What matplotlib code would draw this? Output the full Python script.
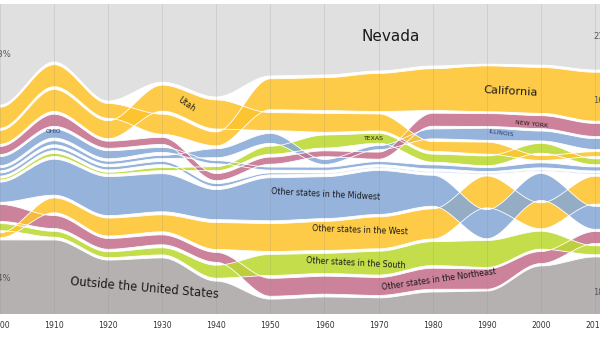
import numpy as np
import matplotlib
matplotlib.use("Agg")
import matplotlib.pyplot as plt

plt.rcParams['font.family'] = ['DejaVu Sans']

years = np.arange(1900, 2011, 10)

# Share of Nevada residents by birthplace (percent)
nevada     = [32.6, 18.7, 31.3, 25.2, 30.0, 23.2, 22.9, 21.6, 20.0, 19.4, 19.7, 21.3]
california = [6.8, 7.1, 4.8, 6.5, 4.5, 10.0, 10.6, 12.3, 13.5, 14.8, 14.8, 15.8]
utah       = [4.5, 7.1, 5.8, 8.4, 9.4, 5.8, 6.1, 5.5, 3.2, 3.9, 1.6, 1.6]
new_york   = [2.6, 3.9, 2.3, 2.3, 2.3, 2.3, 1.9, 2.3, 4.2, 4.2, 4.2, 4.2]
illinois   = [1.0, 1.3, 1.0, 1.0, 2.9, 3.2, 1.6, 1.3, 3.2, 3.9, 3.2, 3.5]
ohio       = [2.9, 2.9, 2.6, 1.6, 1.0, 1.0, 1.0, 1.0, 1.3, 1.3, 1.6, 1.3]
iowa       = [1.0, 1.0, 1.0, 1.0, 1.0, 0.6, 0.3, 0.3, 0.3, 0.3, 0.3, 0.3]
texas      = [0.6, 1.0, 0.6, 1.0, 1.3, 2.6, 4.2, 3.2, 2.6, 3.2, 3.2, 1.9]
midwest    = [6.5, 11.6, 12.6, 12.3, 9.7, 13.9, 13.5, 14.2, 10.0, 9.4, 8.7, 7.4]
west       = [1.6, 4.8, 5.8, 5.5, 8.7, 9.0, 9.4, 10.3, 9.7, 10.3, 8.4, 9.0]
south      = [2.3, 1.9, 1.9, 2.3, 4.2, 6.8, 6.5, 7.7, 7.7, 8.7, 5.8, 2.9]
northeast  = [5.5, 4.2, 3.5, 3.2, 3.2, 5.8, 5.8, 5.8, 6.8, 6.5, 3.9, 3.9]
outside    = [23.9, 23.9, 17.4, 18.1, 10.6, 4.8, 5.5, 5.2, 7.1, 7.4, 15.5, 18.4]

share = {"NV": nevada, "CA": california, "UT": utah, "NY": new_york, "IL": illinois,
         "OH": ohio, "IA": iowa, "TX": texas, "MW": midwest, "WE": west,
         "SO": south, "NE": northeast, "US": outside}

# Top-to-bottom stacking order in each decade
order = [
    ["NV", "CA", "UT", "NY", "OH", "IL", "IA", "TX", "MW", "NE", "SO", "WE", "US"],  # 1900
    ["NV", "CA", "UT", "NY", "OH", "IL", "IA", "TX", "MW", "WE", "NE", "SO", "US"],  # 1910
    ["NV", "CA", "UT", "NY", "OH", "IL", "IA", "TX", "MW", "WE", "NE", "SO", "US"],  # 1920
    ["NV", "UT", "CA", "NY", "OH", "IL", "IA", "TX", "MW", "WE", "NE", "SO", "US"],  # 1930
    ["NV", "UT", "CA", "IL", "OH", "TX", "NY", "IA", "MW", "WE", "NE", "SO", "US"],  # 1940
    ["NV", "CA", "UT", "IL", "TX", "NY", "OH", "IA", "MW", "WE", "SO", "NE", "US"],  # 1950
    ["NV", "CA", "UT", "TX", "NY", "IL", "OH", "IA", "MW", "WE", "SO", "NE", "US"],  # 1960
    ["NV", "CA", "UT", "TX", "IL", "NY", "OH", "IA", "MW", "WE", "SO", "NE", "US"],  # 1970
    ["NV", "CA", "NY", "IL", "UT", "TX", "OH", "IA", "MW", "WE", "SO", "NE", "US"],  # 1980
    ["NV", "CA", "NY", "IL", "UT", "TX", "OH", "IA", "WE", "MW", "SO", "NE", "US"],  # 1990
    ["NV", "CA", "NY", "IL", "TX", "UT", "OH", "IA", "MW", "WE", "SO", "NE", "US"],  # 2000
    ["NV", "CA", "NY", "IL", "UT", "TX", "OH", "IA", "WE", "MW", "NE", "SO", "US"],  # 2010
]

YEL, BLU, GRN, PNK = "#fdc42e", "#87a9d6", "#bcd932", "#c6718f"
colors = {"NV": "#e0e0e0", "CA": YEL, "UT": YEL, "NY": PNK, "IL": BLU, "OH": BLU,
          "IA": BLU, "TX": GRN, "MW": BLU, "WE": YEL, "SO": GRN, "NE": PNK,
          "US": "#b5b1b1"}

# stack positions per decade
tops = {k: [] for k in share}
bots = {k: [] for k in share}
for j in range(len(years)):
    seq = order[j]
    total = sum(share[k][j] for k in seq)
    gap = (100.0 - total) / (len(seq) - 1)
    y = 0.0
    for k in seq:
        tops[k].append(y)
        y += share[k][j]
        bots[k].append(y)
        y += gap


def smooth(vals):
    xs, ys = [], []
    for i in range(len(years) - 1):
        t = np.linspace(0, 1, 80)
        s = t * t * (3 - 2 * t)
        xs.append(years[i] + 10 * t)
        ys.append(vals[i] + (vals[i + 1] - vals[i]) * s)
    xs.append([years[-1] + 0.01, years[-1] + 3])
    ys.append([vals[-1], vals[-1]])
    return np.concatenate(xs), np.concatenate(ys)


fig = plt.figure(figsize=(6.0, 3.38), dpi=100)
ax = fig.add_axes([0, 24 / 338, 1, 310 / 338])

draw_order = ["NV", "US", "NE", "SO", "WE", "MW", "IA", "OH", "TX", "IL", "NY", "UT", "CA"]
for k in draw_order:
    x, t = smooth(tops[k])
    _, b = smooth(bots[k])
    if k == "NV":
        t = np.zeros_like(t)
    if k == "US":
        b = np.full_like(b, 100.0)
    alpha = 1.0 if k in ("NV", "US") else 0.88
    ax.fill_between(x, t, b, color=colors[k], alpha=alpha, lw=0, zorder=2)
    if k not in ("NV",):
        ax.plot(x, t, color="white", lw=0.6, zorder=2.1)
    if k not in ("US",):
        ax.plot(x, b, color="white", lw=0.6, zorder=2.1)

for yr in years:
    ax.axvline(yr, color="#8a8a8a", lw=0.5, alpha=0.28, zorder=3)

ax.set_xlim(1900.64, 2010.94)
ax.set_ylim(100, 0)
ax.set_xticks(years)
ax.set_xticklabels([str(y) for y in years], fontsize=5.6, color="#333333")
ax.tick_params(axis="x", length=0, pad=5)
ax.set_yticks([])
for s in ax.spines.values():
    s.set_visible(False)

def lab(txt, x, y, size, rot=0, color="#1a1a1a", **kw):
    ax.text(x, y, txt, fontsize=size, rotation=rot, color=color, ha="center",
            va="center", rotation_mode="anchor", zorder=5, **kw)

lab("Nevada", 1972.3, 10.6, 11)
lab("California", 1994.4, 28.1, 8.2, rot=-3)
lab("Utah", 1934.5, 32.3, 5.8, rot=-35)
lab("OHIO", 1909.9, 41.0, 4.2, color="#2b3c6e")
lab("TEXAS", 1969.2, 43.4, 4.4)
lab("NEW YORK", 1998.3, 38.7, 4.4, rot=-6)
lab("ILLINOIS", 1992.7, 41.8, 4.4, rot=-8, color="#2b3c6e")
lab("Other states in the Midwest", 1960.2, 61.3, 5.7, rot=-3)
lab("Other states in the West", 1966.5, 72.9, 5.7, rot=-2)
lab("Other states in the South", 1965.7, 83.5, 5.7, rot=-3)
lab("Other states in the Northeast", 1981.2, 89.0, 5.7, rot=8)
lab("Outside the United States", 1926.7, 91.6, 8.3, rot=-5)

# start / end percentage labels (partly cut off at the chart edges, as in the original)
ax.text(1902.0, 16.3, "33%", fontsize=6, color="#555555", ha="right", va="center", zorder=5)
ax.text(1902.0, 88.4, "24%", fontsize=6, color="#555555", ha="right", va="center", zorder=5)
ax.text(2009.7, 10.6, "21%", fontsize=6, color="#555555", ha="left", va="center", zorder=5)
ax.text(2009.7, 31.0, "16%", fontsize=6, color="#555555", ha="left", va="center", zorder=5)
ax.text(2009.7, 93.0, "18%", fontsize=6, color="#555555", ha="left", va="center", zorder=5)

fig.savefig("out.png", dpi=100)
